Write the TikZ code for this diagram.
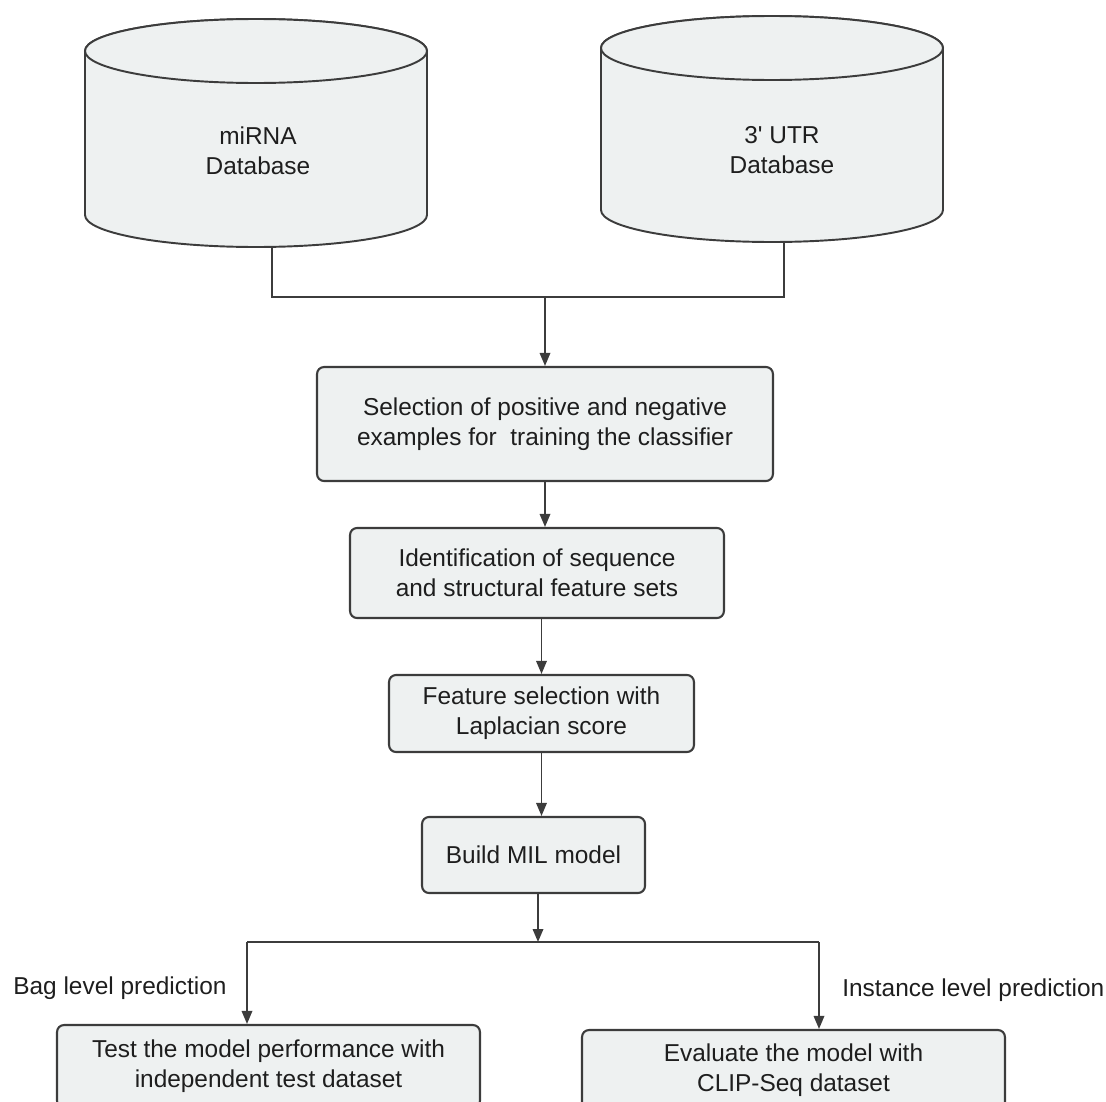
\documentclass[tikz,border=0pt]{standalone}
\usepackage{fontspec}
\setmainfont{Liberation Sans}
\usetikzlibrary{arrows.meta}

\definecolor{boxfill}{HTML}{EEF1F1}
\definecolor{edge}{HTML}{3C3C3C}
\definecolor{ink}{HTML}{1E1E1E}

\tikzset{
  txt/.style={font=\fontsize{13.9}{17.1}\selectfont, text=ink},
  stepbox/.style={txt, draw=edge, line width=1.2pt, fill=boxfill, rounded corners=1.4mm, align=center, inner sep=0pt},
  dbshape/.style={draw=edge, line width=1.1pt, fill=boxfill},
  dbtext/.style={txt, align=center, inner sep=0pt},
  lbl/.style={txt, anchor=west, inner sep=0pt},
  flow/.style={draw=edge, line width=1pt}
}

\begin{document}
\begin{tikzpicture}[x=0.02cm,y=0.02cm,>={Triangle[length=2.6mm,width=2.1mm]}]
\path[use as bounding box] (0,0) rectangle (1106,-1102);
\clip (0,0) rectangle (1106,-1102);

% the two databases
\filldraw[dbshape] (85,-51) -- (85,-215) arc[start angle=180,end angle=360,x radius=171,y radius=32] -- (427,-51) arc[start angle=0,end angle=180,x radius=171,y radius=32] -- cycle;
\draw[dbshape] (256,-51) ellipse[x radius=171,y radius=32];
\filldraw[dbshape] (601,-48) -- (601,-210) arc[start angle=180,end angle=360,x radius=171,y radius=32] -- (943,-48) arc[start angle=0,end angle=180,x radius=171,y radius=32] -- cycle;
\draw[dbshape] (772,-48) ellipse[x radius=171,y radius=32];
\node[dbtext] (mirna) at (258,-151) {miRNA\\Database};
\node[dbtext] (utr) at (782,-150) {3\textquotesingle{} UTR\\Database};

\coordinate (lstem) at (272,-247);
\coordinate (rstem) at (784,-242);
\coordinate (ljoin) at (272,-297);
\coordinate (rjoin) at (784,-297);
\coordinate (mjoin) at (545,-297);

% steps
\node[stepbox, minimum width=9.12cm, minimum height=2.28cm] (sel) at (545,-424) {Selection of positive and negative\\examples for\ \ training the classifier};
\node[stepbox, minimum width=7.48cm, minimum height=1.8cm] (ident) at (537,-573) {Identification of sequence\\and structural feature sets};
\node[stepbox, minimum width=6.1cm, minimum height=1.54cm] (feat) at (541.5,-713.5) {Feature selection with\\Laplacian score};
\node[stepbox, minimum width=4.46cm, minimum height=1.52cm] (mil) at (533.5,-855) {Build MIL model};
\node[stepbox, minimum width=8.46cm, minimum height=1.66cm] (bagtest) at (268.5,-1066.5) {Test the model performance with\\independent test dataset};
\node[stepbox, minimum width=8.46cm, minimum height=1.6cm] (cliptest) at (793.5,-1070) {Evaluate the model with\\CLIP-Seq dataset};

\coordinate (split) at (538,-942);
\coordinate (bl) at (247,-942);
\coordinate (br) at (819,-942);

% connectors
\draw[flow] (lstem) -- (ljoin) -- (rjoin) -- (rstem);
\draw[flow,->] (mjoin) -- (sel);
\draw[flow,->] (sel.south) -- (sel.south |- ident.north);
\draw[flow,->] (feat.north |- ident.south) -- (feat.north);
\draw[flow,->] (feat.south) -- (feat.south |- mil.north);
\draw[flow,->] (mil.south -| split) -- (split);
\draw[flow] (bl) -- (br);
\draw[flow,->] (bl) -- (bl |- bagtest.north);
\draw[flow,->] (br) -- (br |- cliptest.north);

\node[lbl] (baglbl) at (13,-988) {Bag level prediction};
\node[lbl] (inslbl) at (842,-990) {Instance level prediction};
\end{tikzpicture}
\end{document}
